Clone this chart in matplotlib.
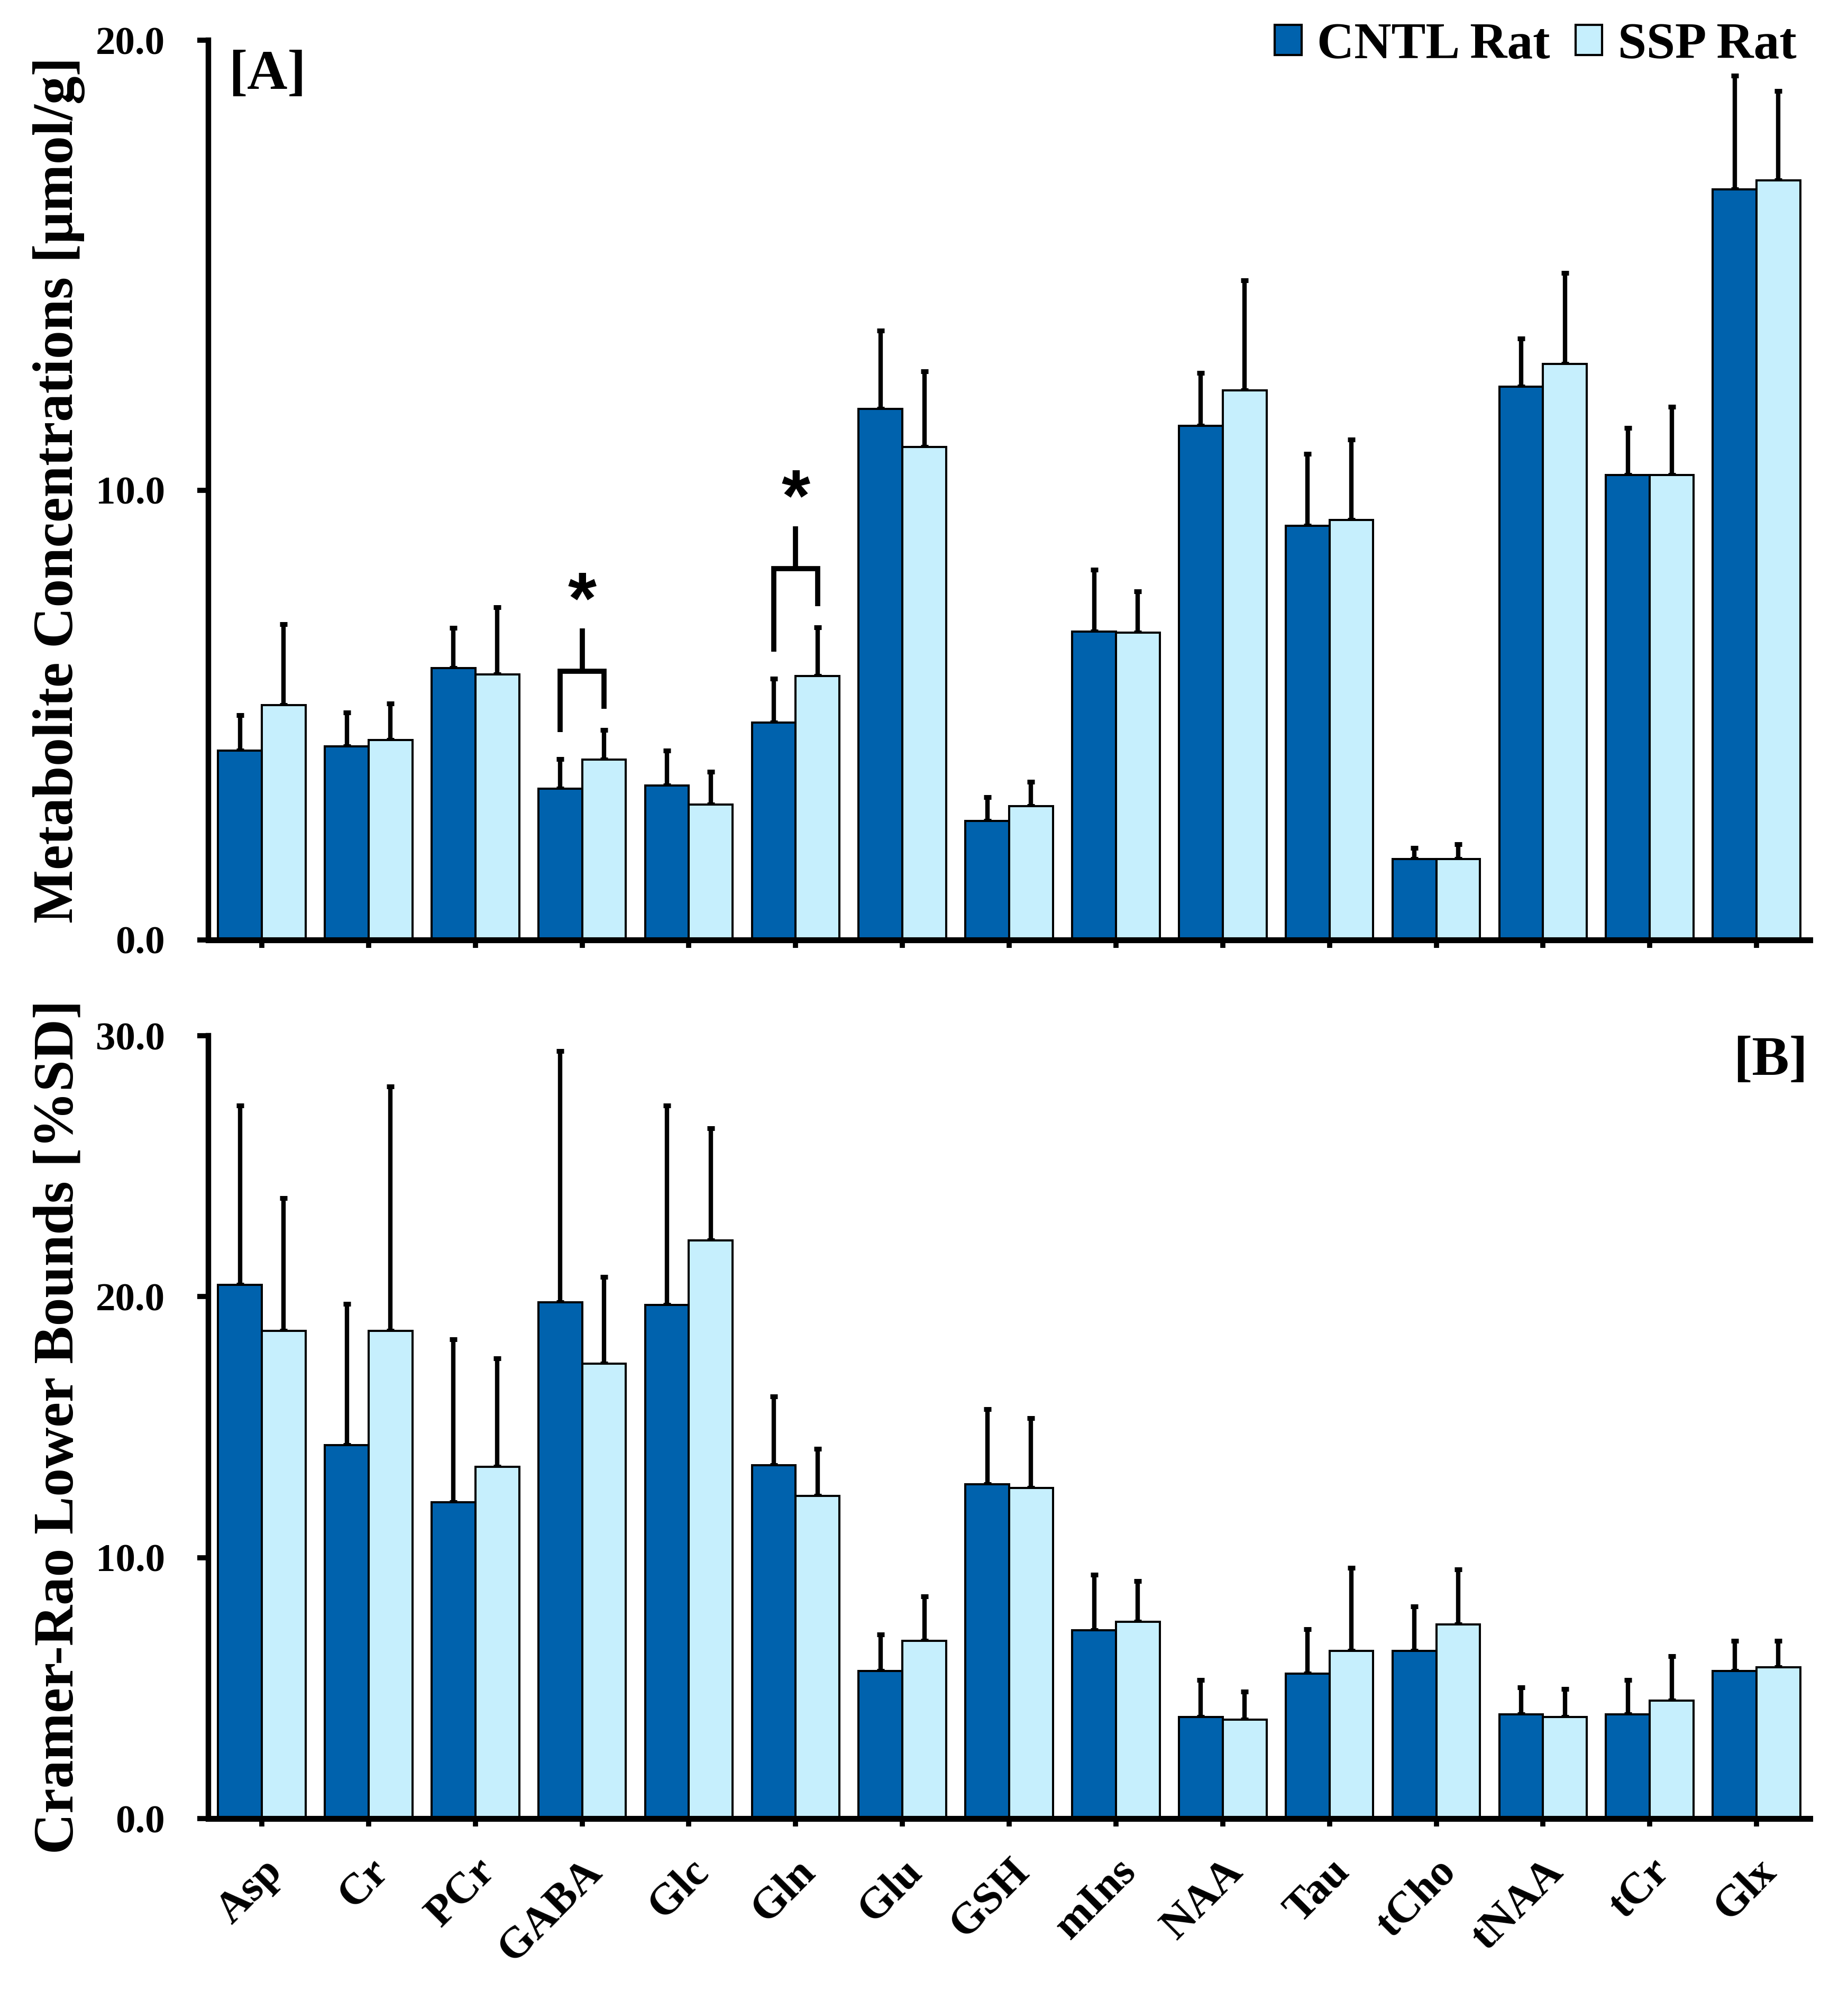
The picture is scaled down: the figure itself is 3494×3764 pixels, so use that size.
import numpy as np
import matplotlib
matplotlib.use('Agg')
import matplotlib.pyplot as plt
from matplotlib.patches import Patch

plt.rcParams['font.family'] = ['Liberation Serif', 'DejaVu Serif']
plt.rcParams['font.weight'] = 'bold'

metabolites = ['Asp', 'Cr', 'PCr', 'GABA', 'Glc', 'Gln', 'Glu', 'GSH',
               'mIns', 'NAA', 'Tau', 'tCho', 'tNAA', 'tCr', 'Glx']

# [A] metabolite concentrations (umol/g), mean and SD
conc_cntl = [4.21, 4.30, 6.04, 3.36, 3.43, 4.83, 11.80, 2.64, 6.85, 11.43, 9.21, 1.80, 12.30, 10.34, 16.68]
conc_cntl_sd = [0.79, 0.76, 0.90, 0.66, 0.78, 0.98, 1.74, 0.53, 1.38, 1.18, 1.60, 0.25, 1.07, 1.04, 2.53]
conc_ssp = [5.22, 4.44, 5.90, 4.01, 3.01, 5.87, 10.96, 2.98, 6.83, 12.22, 9.33, 1.80, 12.81, 10.34, 16.88]
conc_ssp_sd = [1.80, 0.81, 1.49, 0.66, 0.73, 1.08, 1.68, 0.53, 0.92, 2.44, 1.79, 0.33, 2.02, 1.51, 1.99]

# [B] Cramer-Rao lower bounds (%SD), mean and SD
crlb_cntl = [20.46, 14.32, 12.13, 19.78, 19.68, 13.54, 5.65, 12.81, 7.21, 3.90, 5.55, 6.43, 3.99, 3.99, 5.65]
crlb_cntl_sd = [6.87, 5.41, 6.23, 9.64, 7.65, 2.63, 1.41, 2.87, 2.14, 1.41, 1.71, 1.70, 1.03, 1.32, 1.17]
crlb_ssp = [18.70, 18.70, 13.49, 17.44, 22.16, 12.37, 6.82, 12.66, 7.55, 3.80, 6.43, 7.45, 3.90, 4.53, 5.80]
crlb_ssp_sd = [5.07, 9.36, 4.14, 3.31, 4.29, 1.80, 1.70, 2.68, 1.56, 1.07, 3.17, 2.10, 1.07, 1.70, 1.02]

significant = ['GABA', 'Gln']

dark = '#0062AD'
light = '#C6EFFD'
w = 0.41
x = np.arange(len(metabolites))

fig = plt.figure(figsize=(34.94, 37.64), dpi=100)
ax1 = fig.add_axes([0.1128, 0.5279, 0.8666, 0.4519])
ax2 = fig.add_axes([0.1128, 0.0866, 0.8666, 0.3932])


def draw_panel(ax, c, csd, s, ssd, ymax):
    ax.bar(x - w / 2, c, w, color=dark, edgecolor='black', linewidth=2.9, zorder=2)
    ax.bar(x + w / 2, s, w, color=light, edgecolor='black', linewidth=2.9, zorder=2)
    for xs, m, sd in [(x - w / 2, c, csd), (x + w / 2, s, ssd)]:
        ax.errorbar(xs, m, yerr=[np.zeros(len(m)), sd], fmt='none', ecolor='black',
                    elinewidth=6, capsize=5, capthick=6.5, zorder=1)
    ax.set_xlim(-0.5, 14.5)
    ax.set_ylim(0, ymax)
    ax.set_yticks(np.arange(0, ymax + 1, 10))
    ax.set_yticklabels(['%.1f' % v for v in np.arange(0, ymax + 1, 10)], fontsize=54, fontweight='bold')
    ax.set_xticks(x)
    for sp in ['top', 'right']:
        ax.spines[sp].set_visible(False)
    ax.spines['left'].set_linewidth(7.5)
    ax.spines['bottom'].set_linewidth(8)
    ax.tick_params(axis='y', direction='out', length=15, width=7, pad=44)
    ax.tick_params(axis='x', direction='out', length=11, width=7)


draw_panel(ax1, conc_cntl, conc_cntl_sd, conc_ssp, conc_ssp_sd, 20)
draw_panel(ax2, crlb_cntl, crlb_cntl_sd, crlb_ssp, crlb_ssp_sd, 30)

ax1.set_xticklabels([])
ax2.set_xticklabels(metabolites, rotation=45, ha='right', va='top', rotation_mode='anchor',
                    fontsize=60, fontweight='bold')
ax2.tick_params(axis='x', pad=34)

# significance brackets
for name in significant:
    i = metabolites.index(name)
    xl, xr = i - w / 2, i + w / 2
    yl = conc_cntl[i] + conc_cntl_sd[i] + 0.6
    yr = conc_ssp[i] + conc_ssp_sd[i] + 0.47
    yh = conc_ssp[i] + conc_ssp_sd[i] + 1.3
    ax1.plot([xl, xl, xr, xr], [yl, yh, yh, yr], color='black', lw=7,
             solid_capstyle='butt', solid_joinstyle='miter', zorder=3)
    ax1.plot([i, i], [yh, yh + 0.95], color='black', lw=7, solid_capstyle='butt', zorder=3)
    ax1.text(i, yh + 0.95 + 0.72, '*', ha='center', va='center_baseline', fontsize=100,
             fontweight='bold', family='Liberation Sans')

ax1.text(0.0125, 0.9895, '[A]', transform=ax1.transAxes, ha='left', va='top',
         fontsize=76, fontweight='bold')
ax2.text(0.9987, 1.0, '[B]', transform=ax2.transAxes, ha='right', va='top',
         fontsize=76, fontweight='bold')

handles = [Patch(facecolor=dark, edgecolor='black', linewidth=3, label='CNTL Rat'),
           Patch(facecolor=light, edgecolor='black', linewidth=3, label='SSP Rat')]
fig.legend(handles=handles, loc='center right', bbox_to_anchor=(0.972, 0.977), ncol=2,
           frameon=False, prop={'size': 70, 'weight': 'bold'}, handlelength=0.52,
           handleheight=0.52, handletextpad=0.3, columnspacing=0.5, borderpad=0,
           borderaxespad=0)

fig.text(0.032, 0.5279 + 0.4519 / 2, 'Metabolite Concentrations [µmol/g]', rotation=90,
         ha='center', va='center', fontsize=77, fontweight='bold')
fig.text(0.032, 0.0866 + 0.3932 / 2, 'Cramer-Rao Lower Bounds [%SD]', rotation=90,
         ha='center', va='center', fontsize=77, fontweight='bold')

fig.savefig('out.png', dpi=100)
